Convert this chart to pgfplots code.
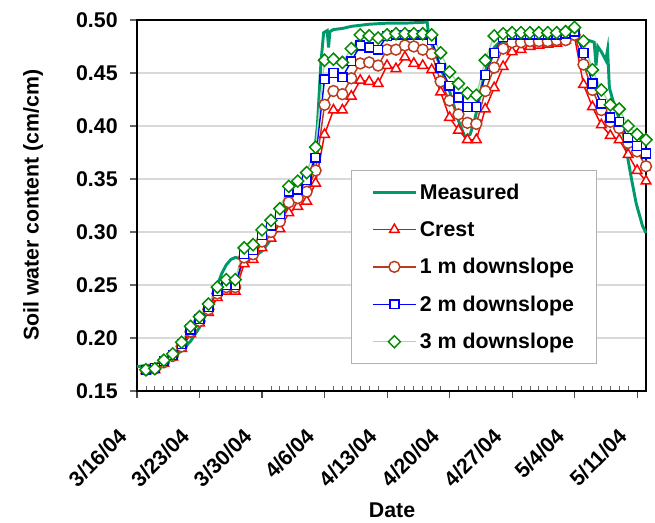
\documentclass[border=0pt]{standalone}
\usepackage{fontspec}
\setmainfont{Liberation Sans}
\usepackage{pgfplots}
\usepackage{pgfplotstable}
\pgfplotsset{compat=1.18}

\definecolor{cMeas}{HTML}{00996B}
\definecolor{cCrest}{HTML}{FF0000}
\definecolor{cOne}{HTML}{B83C1E}
\definecolor{cTwo}{HTML}{0000FF}
\definecolor{cThree}{HTML}{008A00}
\definecolor{cThreeL}{HTML}{A0DCA8}
\definecolor{cGrid}{HTML}{D9D9D9}

\newcommand\ff{\fontsize{16}{19}\selectfont\bfseries}

% days after 3/16/04
\pgfplotstableread{
day crest m1 m2 m3
1 0.169 0.170 0.170 0.170
2 0.170 0.171 0.172 0.171
3 0.176 0.177 0.178 0.179
4 0.182 0.183 0.184 0.185
5 0.190 0.192 0.194 0.196
6 0.204 0.206 0.208 0.211
7 0.214 0.216 0.218 0.220
8 0.224 0.227 0.229 0.232
9 0.238 0.242 0.244 0.248
10 0.244 0.248 0.250 0.255
11 0.244 0.248 0.250 0.255
12 0.270 0.276 0.279 0.285
13 0.274 0.279 0.283 0.288
14 0.285 0.291 0.297 0.302
15 0.294 0.300 0.306 0.311
16 0.303 0.310 0.317 0.322
17 0.318 0.328 0.338 0.343
18 0.324 0.332 0.340 0.348
19 0.329 0.338 0.349 0.356
20 0.346 0.358 0.370 0.380
21 0.392 0.420 0.444 0.462
22 0.415 0.433 0.450 0.463
23 0.415 0.430 0.446 0.460
24 0.428 0.445 0.461 0.473
25 0.443 0.459 0.476 0.486
26 0.442 0.460 0.474 0.485
27 0.440 0.457 0.472 0.483
28 0.457 0.472 0.485 0.486
29 0.454 0.472 0.486 0.487
30 0.465 0.476 0.486 0.487
31 0.459 0.475 0.486 0.487
32 0.457 0.472 0.486 0.487
33 0.453 0.468 0.481 0.486
34 0.432 0.442 0.455 0.469
35 0.408 0.424 0.438 0.451
36 0.396 0.411 0.427 0.440
37 0.387 0.403 0.418 0.431
38 0.387 0.402 0.418 0.429
39 0.416 0.433 0.448 0.462
40 0.436 0.455 0.469 0.485
41 0.456 0.473 0.484 0.487
42 0.470 0.479 0.486 0.488
43 0.472 0.479 0.486 0.488
44 0.475 0.480 0.486 0.488
45 0.476 0.480 0.486 0.488
46 0.477 0.480 0.486 0.488
47 0.478 0.481 0.486 0.488
48 0.481 0.481 0.487 0.489
49 0.484 0.486 0.489 0.493
50 0.439 0.458 0.469 0.480
51 0.418 0.434 0.440 0.453
52 0.401 0.415 0.421 0.434
53 0.391 0.404 0.408 0.420
54 0.387 0.398 0.404 0.416
55 0.373 0.384 0.389 0.400
56 0.358 0.376 0.381 0.392
57 0.348 0.362 0.374 0.387
}\models

\pgfplotstableread{
day theta
0 0.173
1 0.174
2 0.175
3 0.178
4 0.182
5 0.188
6 0.197
7 0.210
8 0.228
8.5 0.238
9 0.250
9.5 0.261
10 0.269
10.5 0.274
11 0.276
11.5 0.275
12 0.273
13 0.276
14 0.282
15 0.293
16 0.308
17 0.326
18 0.338
19 0.350
19.7 0.362
20.2 0.400
20.6 0.460
20.9 0.488
21.3 0.490
21.45 0.474
21.6 0.489
22 0.491
23 0.492
24 0.494
25 0.495
26 0.496
28 0.497
30 0.497
32.5 0.498
32.7 0.482
33.3 0.472
34 0.455
35 0.433
36 0.405
36.7 0.390
37.3 0.392
37.8 0.405
38.3 0.425
38.8 0.445
39.3 0.460
40 0.474
40.6 0.479
42 0.480
44 0.481
46 0.482
48 0.483
49.5 0.484
50.5 0.481
51.2 0.479
51.4 0.457
51.6 0.475
52.0 0.470
52.5 0.462
52.7 0.472
52.9 0.436
53.4 0.421
54.0 0.407
54.3 0.399
54.8 0.377
55.4 0.349
55.9 0.327
56.6 0.306
57 0.299
}\measured

\begin{document}
\begin{tikzpicture}
\begin{axis}[
  at={(0,0)}, anchor=south west,
  scale only axis, width=381.75pt, height=278.25pt,
  xmin=0, xmax=57, ymin=0.15, ymax=0.50,
  clip=false,
  axis line style={black, line width=1.2pt},
  xtick={0,7,14,21,28,35,42,49,56},
  xticklabels={3/16/04,3/23/04,3/30/04,4/6/04,4/13/04,4/20/04,4/27/04,5/4/04,5/11/04},
  minor x tick num=6,
  xtick pos=bottom, ytick pos=left,
  xtick align=inside,
  major tick length=5pt, minor tick length=3.5pt,
  major x tick style={yshift=-5pt, black!70, line width=0.8pt},
  minor x tick style={black!60, line width=0.6pt},
  ytick={0.15,0.20,0.25,0.30,0.35,0.40,0.45,0.50},
  ytick align=outside,
  major y tick style={black!60, line width=0.8pt},
  ymajorgrids, grid style={cGrid, line width=0.9pt},
  yticklabel style={/pgf/number format/fixed, /pgf/number format/fixed zerofill,
    /pgf/number format/precision=2, /pgf/number format/assume math mode=true},
  yticklabel style={font=\ff, xshift=-6pt},
  xticklabel style={font=\ff, xshift=-15pt, yshift=-22pt, rotate=45, anchor=north east},
  xlabel={Date}, ylabel={Soil water content (cm/cm)},
  xlabel style={font=\ff, at={(axis description cs:0.501,-0.322)}, anchor=center},
  ylabel style={font=\ff, at={(axis description cs:-0.204,0.501)}, anchor=center, rotate=0},
  legend style={at={(0.904,0.596)}, anchor=north east, draw=black!30, line width=0.8pt,
    font=\ff, row sep=11pt, inner xsep=15pt, inner ysep=8pt, cells={anchor=west}},
  legend image code/.code={\draw[mark repeat=2, mark phase=2] plot coordinates {(0pt,0pt) (16pt,0pt) (32pt,0pt)};},
  every axis plot/.append style={line width=1.1pt},
]
\addplot[cMeas, line width=2.2pt, no marks] table[x=day, y=theta] {\measured};
\addlegendentry{Measured}
\addplot[cCrest, mark=triangle*, mark size=4.2pt, mark options={fill=white, line width=1.1pt}] table[x=day, y=crest] {\models};
\addlegendentry{Crest}
\addplot[cOne, mark=*, mark size=4.1pt, mark options={fill=white, line width=1.1pt}] table[x=day, y=m1] {\models};
\addlegendentry{1 m downslope}
\addplot[cTwo, mark=square*, mark size=3.3pt, mark options={fill=white, line width=1.1pt}] table[x=day, y=m2] {\models};
\addlegendentry{2 m downslope}
\addplot[cThreeL, mark=square*, mark size=3.2pt, mark options={cThree, fill=white, rotate=45, line width=1.1pt}] table[x=day, y=m3] {\models};
\addlegendentry{3 m downslope}
\end{axis}
\pgfresetboundingbox
\path[use as bounding box] (-102.75pt,-99pt) rectangle (388.5pt,293.25pt);
\end{tikzpicture}
\end{document}
